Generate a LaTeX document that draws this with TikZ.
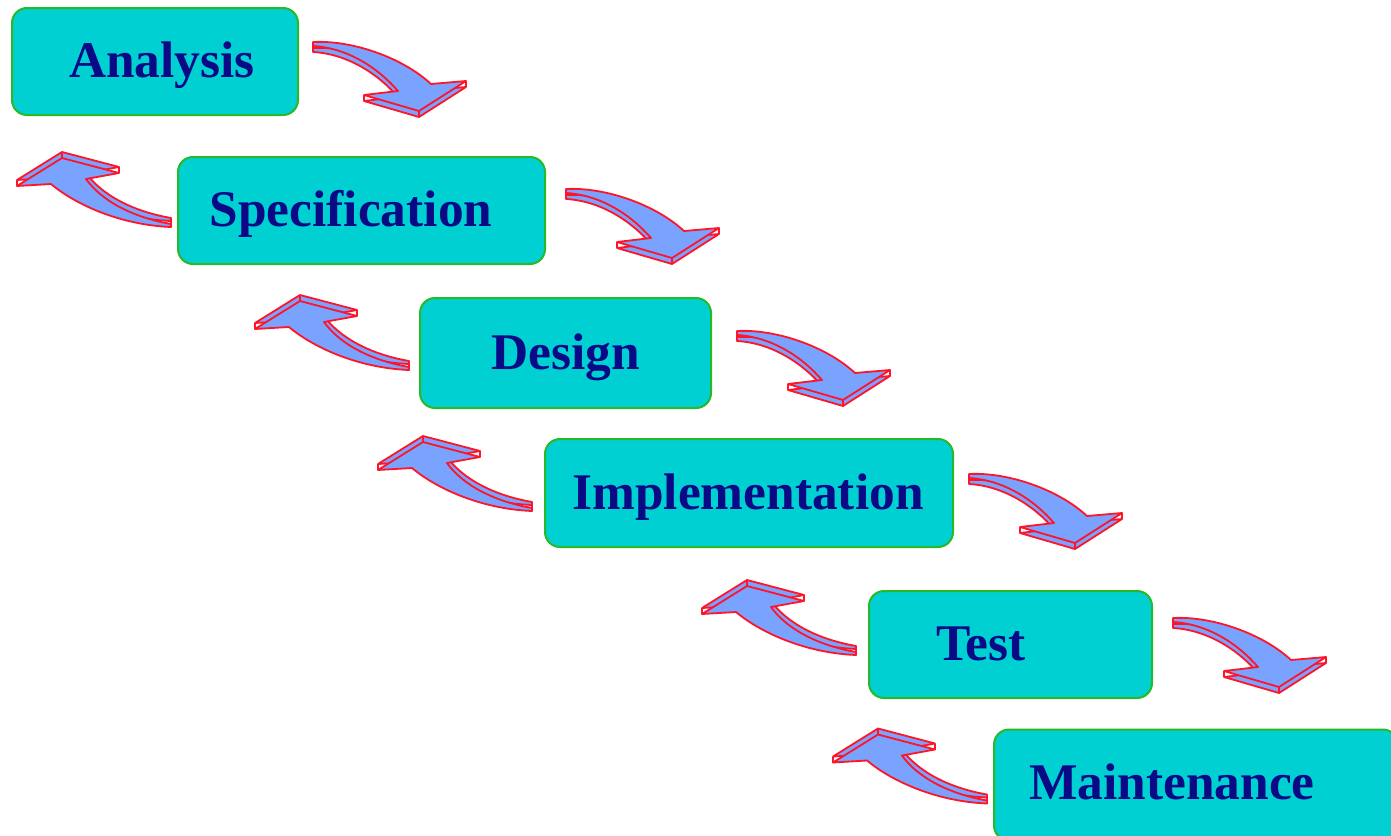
\documentclass[tikz,border=0pt]{standalone}
\usepackage{fontspec}
\setmainfont{Liberation Serif}
\usetikzlibrary{positioning}

\definecolor{stagefill}{RGB}{0,208,210}
\definecolor{stageedge}{RGB}{40,185,40}
\definecolor{stagetext}{RGB}{10,10,135}
\definecolor{arrowfill}{RGB}{122,162,255}
\definecolor{arrowedge}{RGB}{255,20,40}

\begin{document}
\begin{tikzpicture}[%
    x=0.5pt, y=-0.5pt,          % work in screen units, y going down
    ]
% -------------------------------------------------
% Box and arrow styles
\tikzset{
  stage/.style={draw=stageedge, line width=1pt, fill=stagefill,
    rounded corners=7.5pt, inner sep=0pt},
  stagename/.style={anchor=base, text=stagetext,
    font=\fontsize{25.7}{30}\selectfont\bfseries},
  arrowface/.style={draw=arrowedge, fill=arrowfill, line width=0.9pt,
    line join=round},
  % curved arrow down to the next phase (lower copy gives the thickness)
  fwd/.pic={
    \draw[arrowface, shift={(0,6)}] (0,-1)
      .. controls (40,-3) and (90,15) .. (118,41)
      -- (153,38) -- (106,68) -- (51,52) -- (85,48)
      .. controls (65,25) and (35,5) .. (0,3) -- cycle;
    \draw[arrowface] (153,38) -- ++(0,6) (106,68) -- ++(0,6)
      (51,52) -- ++(0,6) (0,3) -- ++(0,6);
    \draw[arrowface] (0,-1)
      .. controls (40,-3) and (90,15) .. (118,41)
      -- (153,38) -- (106,68) -- (51,52) -- (85,48)
      .. controls (65,25) and (35,5) .. (0,3) -- cycle;
  },
  % curved arrow back up to the previous phase
  back/.pic={
    \draw[arrowface, shift={(0,-6)}] (0,-1)
      .. controls (-40,-8) and (-70,-25) .. (-85,-46)
      -- (-52,-52) -- (-109,-67) -- (-154,-39) -- (-120,-41)
      .. controls (-95,-20) and (-50,0) .. (0,2) -- cycle;
    \draw[arrowface] (-52,-52) -- ++(0,-6) (-109,-67) -- ++(0,-6)
      (-154,-39) -- ++(0,-6) (0,-1) -- ++(0,-6);
    \draw[arrowface] (0,-1)
      .. controls (-40,-8) and (-70,-25) .. (-85,-46)
      -- (-52,-52) -- (-109,-67) -- (-154,-39) -- (-120,-41)
      .. controls (-95,-20) and (-50,0) .. (0,2) -- cycle;
  },
}
\clip (0,0) rectangle (1391,835);
% -------------------------------------------------
% The phases
\node[stage, minimum width=143pt, minimum height=53.5pt] (ana) at (155,61.5) {};
\node[stagename] (ana-t) at (162,77.5) {Analysis};
\node[stage, minimum width=183.5pt, minimum height=53.5pt] (spec) at (361.5,210.5) {};
\node[stagename] (spec-t) at (351,226.5) {Specification};
\node[stage, minimum width=145.5pt, minimum height=55pt] (des) at (565.5,353) {};
\node[stagename] (des-t) at (566,369) {Design};
\node[stage, minimum width=204pt, minimum height=54pt] (imp) at (749,493) {};
\node[stagename] (imp-t) at (748,509) {Implementation};
\node[stage, minimum width=141.5pt, minimum height=53.5pt] (test) at (1010.5,644.5) {};
\node[stagename] (test-t) at (981,660.5) {Test};
\node[stage, minimum width=202pt, minimum height=55.5pt] (maint) at (1196,785) {};
\node[stagename] (maint-t) at (1172,799) {Maintenance};

% -------------------------------------------------
% Arrows going down the steps
\pic at ([shift={(14,36)}]ana.north east) {fwd};
\pic at ([shift={(20,34)}]spec.north east) {fwd};
\pic at ([shift={(25,35)}]des.north east) {fwd};
\pic at ([shift={(15,37)}]imp.north east) {fwd};
\pic at ([shift={(20,29)}]test.north east) {fwd};

% ... and the ones going back up
\pic at ([shift={(-6,-40)}]spec.south west) {back};
\pic at ([shift={(-10,-41)}]des.south west) {back};
\pic at ([shift={(-12,-39)}]imp.south west) {back};
\pic at ([shift={(-12,-46)}]test.south west) {back};
\pic at ([shift={(-6,-40)}]maint.south west) {back};
% -------------------------------------------------
\end{tikzpicture}
\end{document}
